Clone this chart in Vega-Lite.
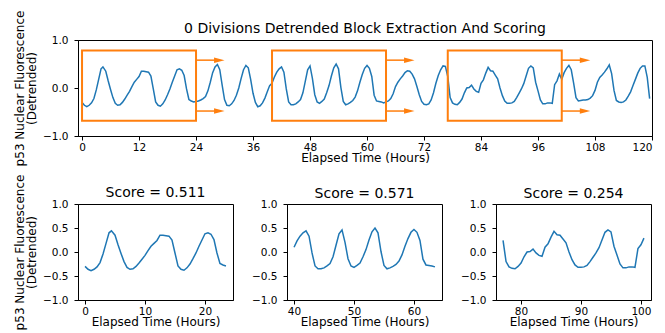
{
  "$schema": "https://vega.github.io/schema/vega-lite/v6.json",
  "padding": {"left": 13, "top": 9, "right": 5, "bottom": 0},
  "config": {
    "font": "DejaVu Sans",
    "view": {"stroke": "black", "strokeWidth": 1},
    "axis": {"grid": false, "labelOverlap": false, "domainColor": "black", "tickColor": "black", "labelColor": "black", "titleColor": "black", "labelFontSize": 10.5, "titleFontSize": 12, "titleFontWeight": "normal", "tickSize": 4, "labelPadding": 6, "domainWidth": 1, "tickWidth": 1, "titlePadding": 4, "titleLineHeight": 12},
    "axisX": {"titlePadding": 0, "labelPadding": 2},
    "title": {"fontSize": 14, "fontWeight": "normal", "color": "black", "frame": "group"}
  },
  "datasets": {
    "ts": [
      {"t": 0, "v": -0.30}, {"t": 0.5, "v": -0.36}, {"t": 1, "v": -0.39}, {"t": 1.5, "v": -0.36}, {"t": 2, "v": -0.31}, {"t": 2.5, "v": -0.22}, {"t": 3, "v": -0.04}, {"t": 3.5, "v": 0.18}, {"t": 4, "v": 0.40}, {"t": 4.4, "v": 0.44}, {"t": 5, "v": 0.35}, {"t": 5.5, "v": 0.15}, {"t": 6, "v": -0.03}, {"t": 6.5, "v": -0.20}, {"t": 7, "v": -0.32}, {"t": 7.5, "v": -0.36}, {"t": 8, "v": -0.35}, {"t": 8.5, "v": -0.30}, {"t": 9, "v": -0.23}, {"t": 9.5, "v": -0.15}, {"t": 10, "v": -0.07}, {"t": 10.5, "v": 0.03}, {"t": 11, "v": 0.12}, {"t": 11.5, "v": 0.18}, {"t": 12, "v": 0.24}, {"t": 12.5, "v": 0.35}, {"t": 13, "v": 0.35}, {"t": 13.5, "v": 0.34}, {"t": 14, "v": 0.33}, {"t": 14.5, "v": 0.25}, {"t": 15, "v": -0.02}, {"t": 15.5, "v": -0.29}, {"t": 16, "v": -0.36}, {"t": 16.5, "v": -0.38}, {"t": 17, "v": -0.33}, {"t": 17.5, "v": -0.25}, {"t": 18, "v": -0.14}, {"t": 18.5, "v": -0.02}, {"t": 19, "v": 0.12}, {"t": 19.5, "v": 0.25}, {"t": 20, "v": 0.38}, {"t": 20.5, "v": 0.40}, {"t": 21, "v": 0.37}, {"t": 21.5, "v": 0.26}, {"t": 22, "v": -0.02}, {"t": 22.5, "v": -0.24}, {"t": 23, "v": -0.27}, {"t": 23.5, "v": -0.29},
      {"t": 24, "v": -0.28}, {"t": 24.5, "v": -0.27}, {"t": 25, "v": -0.25}, {"t": 25.5, "v": -0.22}, {"t": 26, "v": -0.18}, {"t": 26.5, "v": -0.06}, {"t": 27, "v": 0.12}, {"t": 27.5, "v": 0.32}, {"t": 28, "v": 0.44}, {"t": 28.5, "v": 0.49}, {"t": 29, "v": 0.38}, {"t": 29.5, "v": 0.06}, {"t": 30, "v": -0.24}, {"t": 30.5, "v": -0.36}, {"t": 31, "v": -0.37}, {"t": 31.5, "v": -0.33}, {"t": 32, "v": -0.26}, {"t": 32.5, "v": -0.15}, {"t": 33, "v": 0.0}, {"t": 33.5, "v": 0.20}, {"t": 34, "v": 0.38}, {"t": 34.5, "v": 0.47}, {"t": 35, "v": 0.42}, {"t": 35.5, "v": 0.18}, {"t": 36, "v": -0.11}, {"t": 36.5, "v": -0.30}, {"t": 37, "v": -0.39}, {"t": 37.5, "v": -0.37}, {"t": 38, "v": -0.31}, {"t": 38.5, "v": -0.21}, {"t": 39, "v": -0.08}, {"t": 39.5, "v": 0.05},
      {"t": 40, "v": 0.10}, {"t": 40.5, "v": 0.23}, {"t": 41, "v": 0.33}, {"t": 41.5, "v": 0.40}, {"t": 42, "v": 0.44}, {"t": 42.5, "v": 0.33}, {"t": 43, "v": -0.02}, {"t": 43.5, "v": -0.29}, {"t": 44, "v": -0.35}, {"t": 44.5, "v": -0.35}, {"t": 45, "v": -0.33}, {"t": 45.5, "v": -0.29}, {"t": 46, "v": -0.24}, {"t": 46.5, "v": -0.10}, {"t": 47, "v": 0.14}, {"t": 47.5, "v": 0.38}, {"t": 48, "v": 0.46}, {"t": 48.5, "v": 0.20}, {"t": 49, "v": -0.14}, {"t": 49.5, "v": -0.29}, {"t": 50, "v": -0.32}, {"t": 50.5, "v": -0.28}, {"t": 51, "v": -0.23}, {"t": 51.5, "v": -0.10}, {"t": 52, "v": 0.05}, {"t": 52.5, "v": 0.25}, {"t": 53, "v": 0.42}, {"t": 53.5, "v": 0.50}, {"t": 54, "v": 0.40}, {"t": 54.5, "v": 0.01}, {"t": 55, "v": -0.28}, {"t": 55.5, "v": -0.35}, {"t": 56, "v": -0.33}, {"t": 56.5, "v": -0.30}, {"t": 57, "v": -0.26}, {"t": 57.5, "v": -0.19}, {"t": 58, "v": -0.06}, {"t": 58.5, "v": 0.12}, {"t": 59, "v": 0.28}, {"t": 59.5, "v": 0.41}, {"t": 60, "v": 0.47}, {"t": 60.5, "v": 0.41}, {"t": 61, "v": 0.24}, {"t": 61.5, "v": -0.15}, {"t": 62, "v": -0.27}, {"t": 62.5, "v": -0.28}, {"t": 63, "v": -0.29}, {"t": 63.5, "v": -0.31},
      {"t": 64, "v": -0.29}, {"t": 64.5, "v": -0.27}, {"t": 65, "v": -0.22}, {"t": 65.5, "v": -0.12}, {"t": 66, "v": 0.03}, {"t": 66.5, "v": 0.12}, {"t": 67, "v": 0.19}, {"t": 67.5, "v": 0.25}, {"t": 68, "v": 0.32}, {"t": 68.5, "v": 0.36}, {"t": 69, "v": 0.35}, {"t": 69.5, "v": 0.29}, {"t": 70, "v": 0.19}, {"t": 70.5, "v": 0.03}, {"t": 71, "v": -0.14}, {"t": 71.5, "v": -0.28}, {"t": 72, "v": -0.34}, {"t": 72.5, "v": -0.35}, {"t": 73, "v": -0.33}, {"t": 73.5, "v": -0.25}, {"t": 74, "v": -0.10}, {"t": 74.5, "v": 0.10}, {"t": 75, "v": 0.26}, {"t": 75.5, "v": 0.38}, {"t": 76, "v": 0.46}, {"t": 76.5, "v": 0.45},
      {"t": 77, "v": 0.24}, {"t": 77.5, "v": -0.20}, {"t": 78, "v": -0.31}, {"t": 78.5, "v": -0.34}, {"t": 79, "v": -0.35}, {"t": 79.5, "v": -0.30}, {"t": 80, "v": -0.23}, {"t": 80.5, "v": -0.10}, {"t": 81, "v": 0.0}, {"t": 81.5, "v": 0.01}, {"t": 82, "v": 0.06}, {"t": 82.5, "v": -0.02}, {"t": 83, "v": -0.07}, {"t": 83.5, "v": -0.09}, {"t": 84, "v": 0.10}, {"t": 84.5, "v": 0.17}, {"t": 85, "v": 0.31}, {"t": 85.5, "v": 0.43}, {"t": 86, "v": 0.36}, {"t": 86.5, "v": 0.35}, {"t": 87, "v": 0.27}, {"t": 87.5, "v": 0.19}, {"t": 88, "v": 0.0}, {"t": 88.5, "v": -0.16}, {"t": 89, "v": -0.27}, {"t": 89.5, "v": -0.32}, {"t": 90, "v": -0.32}, {"t": 90.5, "v": -0.31}, {"t": 91, "v": -0.28}, {"t": 91.5, "v": -0.20}, {"t": 92, "v": -0.11}, {"t": 92.5, "v": -0.02}, {"t": 93, "v": 0.09}, {"t": 93.5, "v": 0.25}, {"t": 94, "v": 0.41}, {"t": 94.5, "v": 0.46}, {"t": 95, "v": 0.42}, {"t": 95.5, "v": 0.12}, {"t": 96, "v": -0.06}, {"t": 96.5, "v": -0.25}, {"t": 97, "v": -0.33}, {"t": 97.5, "v": -0.33}, {"t": 98, "v": -0.31}, {"t": 98.5, "v": -0.31}, {"t": 99, "v": -0.32}, {"t": 99.5, "v": 0.07}, {"t": 100, "v": 0.15}, {"t": 100.5, "v": 0.29},
      {"t": 101, "v": 0.18}, {"t": 101.5, "v": 0.32}, {"t": 102, "v": 0.41}, {"t": 102.5, "v": 0.47}, {"t": 103, "v": 0.38}, {"t": 103.5, "v": 0.10}, {"t": 104, "v": -0.20}, {"t": 104.5, "v": -0.27}, {"t": 105, "v": -0.26}, {"t": 105.5, "v": -0.25}, {"t": 106, "v": -0.25}, {"t": 106.5, "v": -0.24}, {"t": 107, "v": -0.21}, {"t": 107.5, "v": -0.16}, {"t": 108, "v": -0.05}, {"t": 108.5, "v": 0.12}, {"t": 109, "v": 0.22}, {"t": 109.5, "v": 0.27}, {"t": 110, "v": 0.33}, {"t": 110.5, "v": 0.40}, {"t": 111, "v": 0.48}, {"t": 111.5, "v": 0.30}, {"t": 112, "v": -0.05}, {"t": 112.5, "v": -0.26}, {"t": 113, "v": -0.29}, {"t": 113.5, "v": -0.30}, {"t": 114, "v": -0.29}, {"t": 114.5, "v": -0.25}, {"t": 115, "v": -0.17}, {"t": 115.5, "v": -0.08}, {"t": 116, "v": 0.05}, {"t": 116.5, "v": 0.18}, {"t": 117, "v": 0.31}, {"t": 117.5, "v": 0.41}, {"t": 118, "v": 0.46}, {"t": 118.5, "v": 0.46}, {"t": 119, "v": 0.22}, {"t": 119.5, "v": -0.22}
    ],
    "boxes": [
      {"start": 0, "end": 24, "lo": -0.68, "hi": 0.78},
      {"start": 40, "end": 64, "lo": -0.68, "hi": 0.78},
      {"start": 77, "end": 101, "lo": -0.68, "hi": 0.78}
    ],
    "arrows": [
      {"from": 24, "head": 28.9, "y": 0.58},
      {"from": 24, "head": 28.9, "y": -0.48},
      {"from": 64, "head": 68.9, "y": 0.58},
      {"from": 64, "head": 68.9, "y": -0.48},
      {"from": 101, "head": 105.9, "y": 0.58},
      {"from": 101, "head": 105.9, "y": -0.48}
    ]
  },
  "bounds": "flush",
  "spacing": 68,
  "vconcat": [
    {
      "width": 574,
      "height": 96,
      "title": {"text": "0 Divisions Detrended Block Extraction And Scoring", "offset": -26},
      "layer": [
        {
          "data": {"name": "ts"},
          "mark": {"type": "line", "color": "#1f77b4", "strokeWidth": 1.5},
          "encoding": {
            "x": {"field": "t", "type": "quantitative", "scale": {"domain": [-0.85, 120], "nice": false, "zero": false}, "axis": {"values": [0, 12, 24, 36, 48, 60, 72, 84, 96, 108, 120], "title": "Elapsed Time (Hours)"}},
            "y": {"field": "v", "type": "quantitative", "scale": {"domain": [-1, 1], "nice": false}, "axis": {"values": [-1, -0.5, 0, 0.5, 1], "format": ".1f", "title": ["p53 Nuclear Fluorescence", "(Detrended)"]}}
          }
        },
        {
          "data": {"name": "boxes"},
          "mark": {"type": "rect", "fillOpacity": 0, "stroke": "#ff7f0e", "strokeWidth": 2},
          "encoding": {
            "x": {"field": "start", "type": "quantitative"},
            "x2": {"field": "end"},
            "y": {"field": "hi", "type": "quantitative"},
            "y2": {"field": "lo"}
          }
        },
        {
          "data": {"name": "arrows"},
          "mark": {"type": "rule", "color": "#ff7f0e", "strokeWidth": 1.5},
          "encoding": {
            "x": {"field": "from", "type": "quantitative"},
            "x2": {"field": "head"},
            "y": {"field": "y", "type": "quantitative"}
          }
        },
        {
          "data": {"name": "arrows"},
          "mark": {"type": "point", "shape": "M-1,-0.52L1,0L-1,0.52Z", "filled": true, "color": "#ff7f0e", "opacity": 1, "size": 110, "strokeWidth": 0},
          "encoding": {
            "x": {"field": "head", "type": "quantitative"},
            "y": {"field": "y", "type": "quantitative"}
          }
        }
      ]
    },
    {
      "bounds": "flush",
      "spacing": 54,
      "hconcat": [
        {
          "width": 155,
          "height": 96,
          "title": {"text": "Score = 0.511", "offset": -26},
          "data": {"name": "ts"},
          "transform": [{"filter": {"field": "t", "range": [0, 23.5]}}],
          "mark": {"type": "line", "color": "#1f77b4", "strokeWidth": 1.5},
          "encoding": {
            "x": {"field": "t", "type": "quantitative", "scale": {"domain": [-1.175, 24.675], "nice": false, "zero": false}, "axis": {"values": [0, 10, 20], "title": "Elapsed Time (Hours)"}},
            "y": {"field": "v", "type": "quantitative", "scale": {"domain": [-1, 1], "nice": false}, "axis": {"values": [-1, -0.5, 0, 0.5, 1], "format": ".1f", "title": ["p53 Nuclear Fluorescence", "(Detrended)"]}}
          }
        },
        {
          "width": 155,
          "height": 96,
          "title": {"text": "Score = 0.571", "offset": -1.5},
          "data": {"name": "ts"},
          "transform": [{"filter": {"field": "t", "range": [40, 63.5]}}],
          "mark": {"type": "line", "color": "#1f77b4", "strokeWidth": 1.5},
          "encoding": {
            "x": {"field": "t", "type": "quantitative", "scale": {"domain": [38.825, 64.675], "nice": false, "zero": false}, "axis": {"values": [40, 50, 60], "title": "Elapsed Time (Hours)"}},
            "y": {"field": "v", "type": "quantitative", "scale": {"domain": [-1, 1], "nice": false}, "axis": {"values": [-1, -0.5, 0, 0.5, 1], "format": ".1f", "title": null}}
          }
        },
        {
          "width": 155,
          "height": 96,
          "title": {"text": "Score = 0.254", "offset": -1.5},
          "data": {"name": "ts"},
          "transform": [{"filter": {"field": "t", "range": [77, 100.5]}}],
          "mark": {"type": "line", "color": "#1f77b4", "strokeWidth": 1.5},
          "encoding": {
            "x": {"field": "t", "type": "quantitative", "scale": {"domain": [75.825, 101.675], "nice": false, "zero": false}, "axis": {"values": [80, 90, 100], "title": "Elapsed Time (Hours)"}},
            "y": {"field": "v", "type": "quantitative", "scale": {"domain": [-1, 1], "nice": false}, "axis": {"values": [-1, -0.5, 0, 0.5, 1], "format": ".1f", "title": null}}
          }
        }
      ]
    }
  ]
}
